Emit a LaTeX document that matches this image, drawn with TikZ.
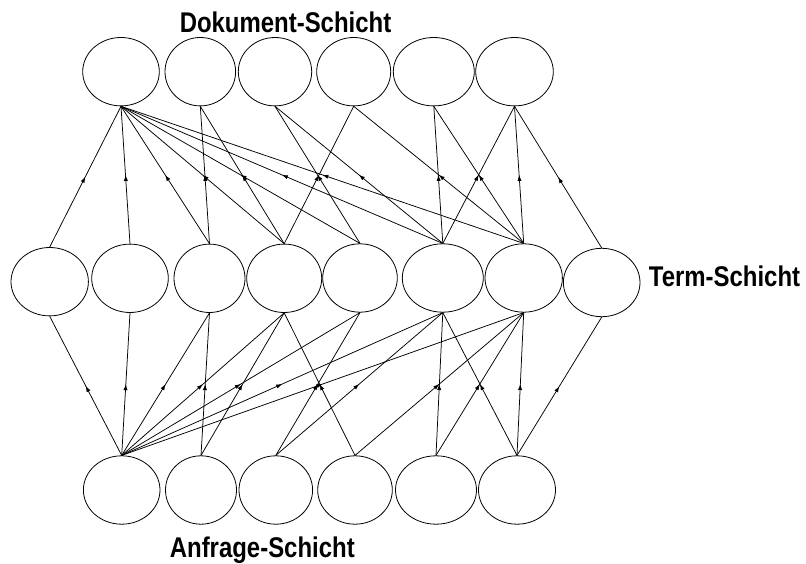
\documentclass[tikz,border=0pt]{standalone}
\usepackage{fontspec}
\setmainfont{Liberation Sans}
\usetikzlibrary{shapes.geometric,decorations.markings,arrows.meta}
\begin{document}
\begin{tikzpicture}[x=1pt,y=-1pt,
  knot/.style={draw, ellipse, line width=0.8pt, inner sep=0pt, minimum height=68.4pt},
  link/.style={line width=0.75pt, postaction={decorate},
    decoration={markings, mark=at position 0.5 with {\arrow{Latex[length=6pt,width=4.2pt]}}}},
  layer/.style={font=\fontsize{28.5}{32}\selectfont\bfseries, inner sep=0pt}]
\useasboundingbox (0,0) rectangle (806,564);
% document layer
\node[knot, minimum width=76.6pt] (d1) at (121,71.7) {};
\node[knot, minimum width=70.6pt] (d2) at (200.3,71.7) {};
\node[knot, minimum width=73.4pt] (d3) at (275,71.7) {};
\node[knot, minimum width=74pt]   (d4) at (353.7,71.7) {};
\node[knot, minimum width=81pt]   (d5) at (433.8,71.7) {};
\node[knot, minimum width=77.6pt] (d6) at (514.5,71.7) {};
% term layer
\node[knot, minimum width=77.4pt] (t1) at (49.7,281.7) {};
\node[knot, minimum width=76.6pt] (t2) at (130,278.3) {};
\node[knot, minimum width=71pt]   (t3) at (209.5,278.3) {};
\node[knot, minimum width=75pt]   (t4) at (284.2,278.3) {};
\node[knot, minimum width=74.6pt] (t5) at (360,278) {};
\node[knot, minimum width=81pt]   (t6) at (442.8,278) {};
\node[knot, minimum width=77.4pt] (t7) at (523.7,278) {};
\node[knot, minimum width=76.6pt] (t8) at (601.7,282.5) {};
% query layer
\node[knot, minimum width=76.6pt] (q1) at (121.7,490) {};
\node[knot, minimum width=71pt]   (q2) at (201,490) {};
\node[knot, minimum width=73.6pt] (q3) at (275.8,490) {};
\node[knot, minimum width=74.6pt] (q4) at (355,490) {};
\node[knot, minimum width=81pt]   (q5) at (436,490) {};
\node[knot, minimum width=77pt]   (q6) at (517,490) {};
% labels
\node[layer, anchor=base] (ld) at (285.5,32.7) {\scalebox{0.84}[1]{Dokument-Schicht}};
\node[layer, anchor=base] (lt) at (724.5,286.7) {\scalebox{0.84}[1]{Term-Schicht}};
\node[layer, anchor=base] (lq) at (262.3,557.3) {\scalebox{0.84}[1]{Anfrage-Schicht}};
% term -> document
\foreach \t in {1,...,7} {\draw[link] (t\t.north) -- (d1.south);}
\foreach \t in {3,4} {\draw[link] (t\t.north) -- (d2.south);}
\foreach \t in {5,6} {\draw[link] (t\t.north) -- (d3.south);}
\foreach \t in {4,7} {\draw[link] (t\t.north) -- (d4.south);}
\foreach \t in {6,7} {\draw[link] (t\t.north) -- (d5.south);}
\foreach \t in {6,7,8} {\draw[link] (t\t.north) -- (d6.south);}
% query -> term
\foreach \t in {1,...,7} {\draw[link] (q1.north) -- (t\t.south);}
\foreach \t in {3,4} {\draw[link] (q2.north) -- (t\t.south);}
\foreach \t in {5,6} {\draw[link] (q3.north) -- (t\t.south);}
\foreach \t in {4,7} {\draw[link] (q4.north) -- (t\t.south);}
\foreach \t in {6,7} {\draw[link] (q5.north) -- (t\t.south);}
\foreach \t in {6,7,8} {\draw[link] (q6.north) -- (t\t.south);}
\end{tikzpicture}
\end{document}
